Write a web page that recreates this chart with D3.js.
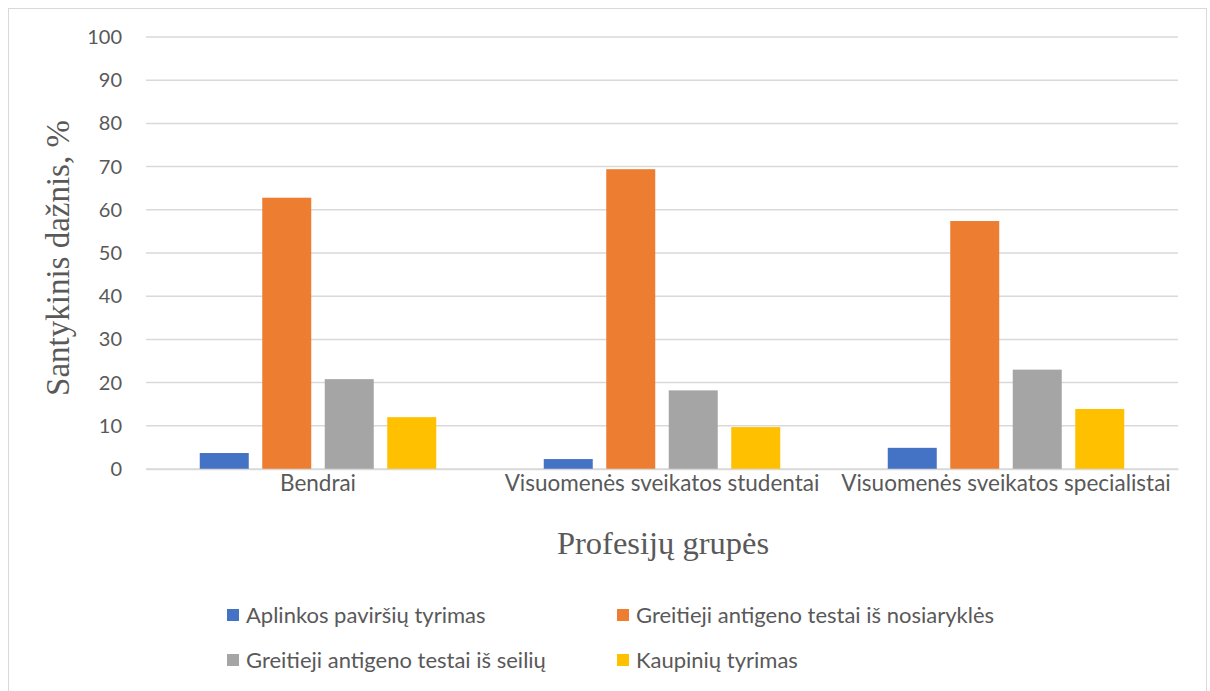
<!DOCTYPE html>
<html>
<head>
<meta charset="utf-8">
<script src="https://cdn.jsdelivr.net/npm/d3@7"></script>
<style>
  body { margin: 0; background: #fff; }
  svg { display: block; }
</style>
</head>
<body>
<div id="chart"></div>
<script>
'use strict';

// Groups (x axis)
var groups = ['Bendrai', 'Visuomenės sveikatos studentai', 'Visuomenės sveikatos specialistai'];

// Series names
var seriesNames = [
  'Aplinkos paviršių tyrimas',
  'Greitieji antigeno testai iš nosiaryklės',
  'Greitieji antigeno testai iš seilių',
  'Kaupinių tyrimas'
];

// Values per series, one per group
var aplinkos = [3.7, 2.3, 4.9];
var nosiarykles = [62.8, 69.4, 57.4];
var seiliu = [20.8, 18.2, 23.0];
var kaupiniu = [12.0, 9.7, 13.9];

var yTicks = [0, 10, 20, 30, 40, 50, 60, 70, 80, 90, 100];
var colors = ['#4472c4', '#ed7d31', '#a5a5a5', '#ffc000'];

var seriesValues = [aplinkos, nosiarykles, seiliu, kaupiniu];

var width = 1210, height = 691;
var plot = { left: 146, right: 1178, top: 37, bottom: 469 };
var sansFont = 'Lato, "Open Sans", sans-serif';
var serifFont = '"Liberation Serif", "Times New Roman", serif';

var svg = d3.select('#chart').append('svg')
  .attr('width', width)
  .attr('height', height);

// Chart frame
svg.append('rect')
  .attr('x', 8.5).attr('y', 8.5)
  .attr('width', 1198).attr('height', 700)
  .attr('fill', '#fff')
  .attr('stroke', '#d9d9d9')
  .attr('stroke-width', 1);

var y = d3.scaleLinear().domain([0, 100]).range([plot.bottom, plot.top]);
var x0 = d3.scaleBand().domain(groups).range([plot.left, plot.right]).padding(0);
var x1 = d3.scaleBand().domain(d3.range(seriesNames.length))
  .range([0, x0.bandwidth()])
  .paddingInner(0.216)
  .paddingOuter(0.86);

// Gridlines
svg.append('g')
  .selectAll('line')
  .data(yTicks)
  .enter().append('line')
  .attr('x1', plot.left).attr('x2', plot.right)
  .attr('y1', function(d) { return y(d); })
  .attr('y2', function(d) { return y(d); })
  .attr('stroke', '#d9d9d9')
  .attr('stroke-width', 1.5);

// Y axis labels
var yAxis = d3.axisLeft(y).tickValues(yTicks).tickSize(0).tickPadding(0);
var yg = svg.append('g')
  .attr('transform', 'translate(122,0)')
  .call(yAxis);
yg.select('.domain').remove();
yg.selectAll('text')
  .attr('fill', '#595959')
  .style('font-family', sansFont)
  .style('font-size', '20px');

// Bars
var barData = [];
groups.forEach(function(g, gi) {
  seriesValues.forEach(function(vals, si) {
    barData.push({ group: g, series: si, value: vals[gi] });
  });
});

svg.append('g')
  .selectAll('rect')
  .data(barData)
  .enter().append('rect')
  .attr('x', function(d) { return x0(d.group) + x1(d.series); })
  .attr('y', function(d) { return y(d.value); })
  .attr('width', x1.bandwidth())
  .attr('height', function(d) { return y(0) - y(d.value); })
  .attr('fill', function(d) { return colors[d.series]; });

// X axis
var xAxis = d3.axisBottom(x0).tickSize(0).tickPadding(6);
var xg = svg.append('g')
  .attr('transform', 'translate(0,' + plot.bottom + ')')
  .call(xAxis);
xg.select('.domain').attr('stroke', '#d9d9d9').attr('stroke-width', 1.5);
xg.selectAll('text')
  .attr('fill', '#595959')
  .style('font-family', sansFont)
  .style('font-size', '22.5px');

// Axis titles
svg.append('text')
  .attr('x', (plot.left + plot.right) / 2 + 1)
  .attr('y', 554)
  .attr('text-anchor', 'middle')
  .attr('fill', '#595959')
  .style('font-family', serifFont)
  .style('font-size', '32.5px')
  .text('Profesijų grupės');

svg.append('text')
  .attr('transform', 'translate(69,' + ((plot.top + plot.bottom) / 2 + 5) + ') rotate(-90)')
  .attr('text-anchor', 'middle')
  .attr('fill', '#595959')
  .style('font-family', serifFont)
  .style('font-size', '33px')
  .text('Santykinis dažnis, %');

// Legend
var legendPos = [
  { x: 227, y: 615 },
  { x: 617, y: 615 },
  { x: 227, y: 660 },
  { x: 617, y: 660 }
];
var legend = svg.append('g')
  .selectAll('g')
  .data(seriesNames)
  .enter().append('g')
  .attr('transform', function(d, i) { return 'translate(' + legendPos[i].x + ',' + legendPos[i].y + ')'; });

legend.append('rect')
  .attr('x', 0).attr('y', -6)
  .attr('width', 12).attr('height', 12)
  .attr('fill', function(d, i) { return colors[i]; });

legend.append('text')
  .attr('x', 19)
  .attr('y', 0)
  .attr('dy', '0.35em')
  .attr('fill', '#595959')
  .style('font-family', sansFont)
  .style('font-size', '22px')
  .text(function(d) { return d; });
</script>
</body>
</html>
